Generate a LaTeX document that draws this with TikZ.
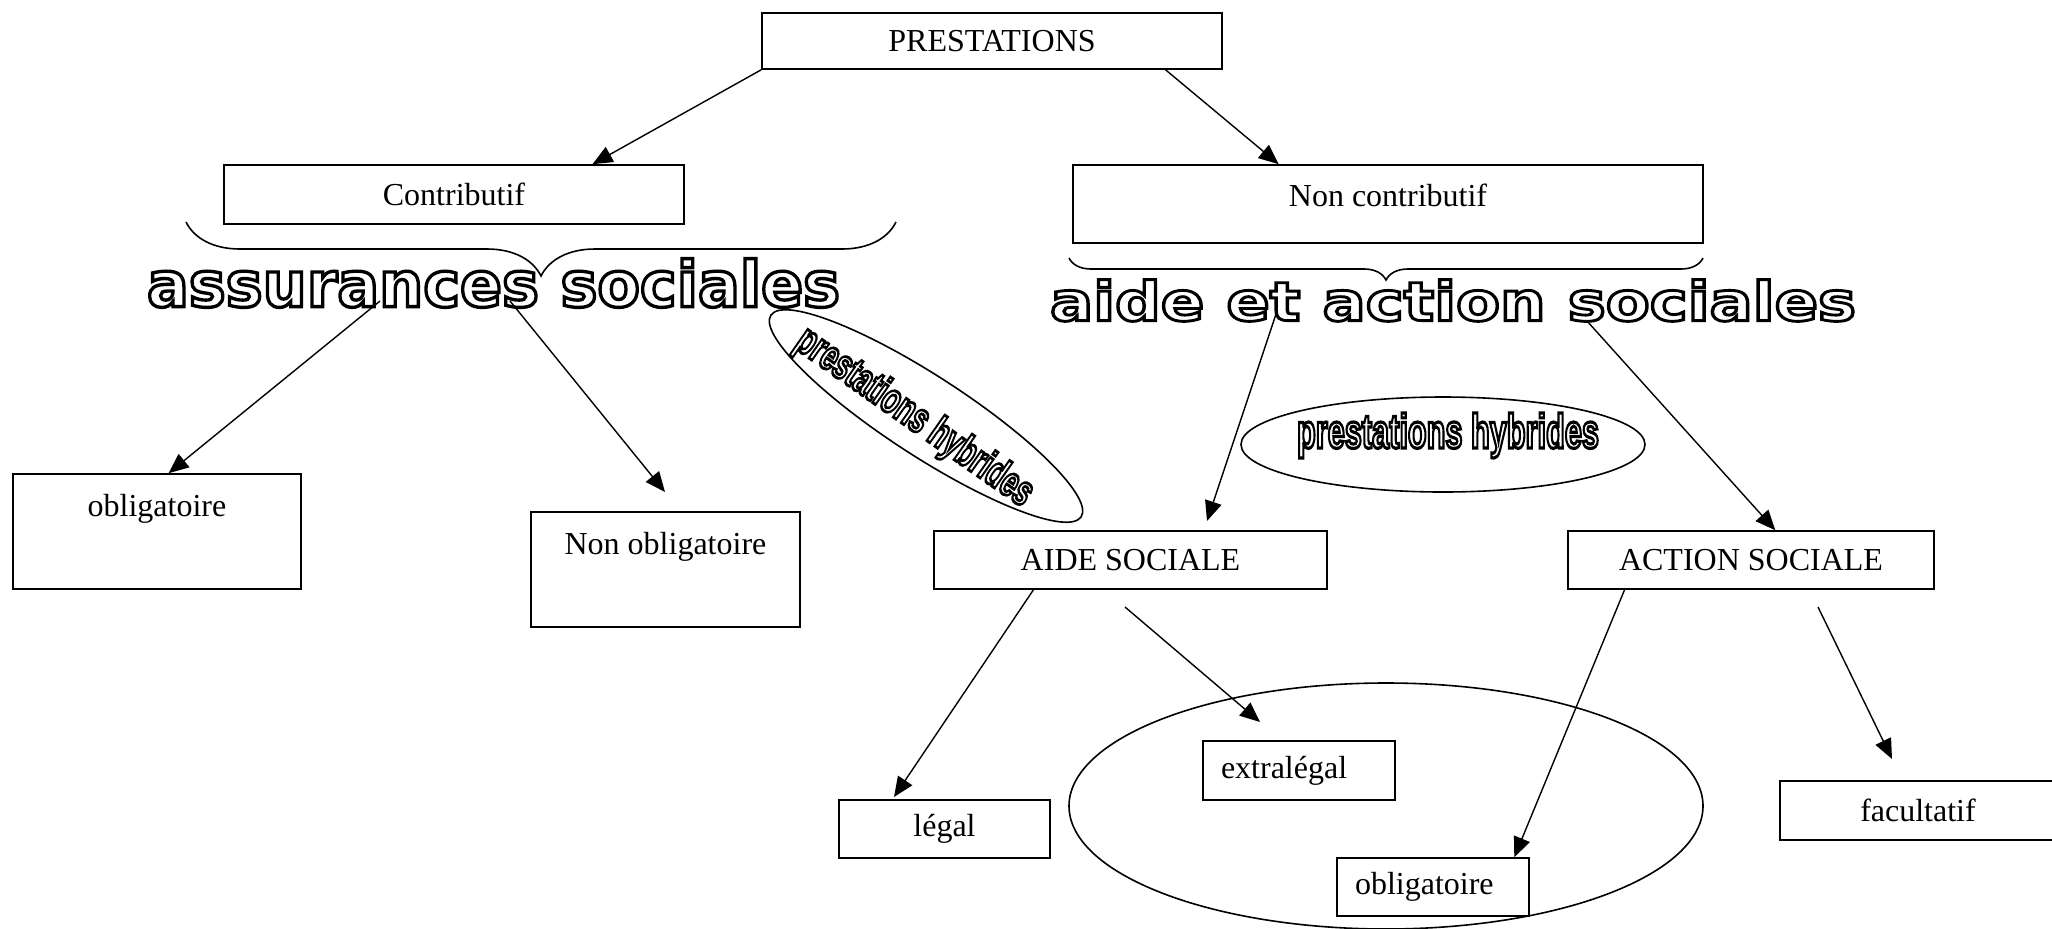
\documentclass[tikz,border=0pt]{standalone}
\usepackage{fontspec}
\setmainfont{Liberation Serif}
\newfontfamily\wideartfont{DejaVu Sans}
\newfontfamily\narrowartfont{Liberation Sans}
\usepackage{graphicx}
\usepackage{tikz}
\usetikzlibrary{arrows.meta,calc}
\usetikzlibrary{shapes.geometric}
\usetikzlibrary{decorations.pathreplacing}

% hollow word art
\newcommand{\hollowtext}[1]{\special{pdf:literal direct 1 Tr 1.6 w}#1\special{pdf:literal direct 0 Tr}}
\newcommand{\wordwide}[3]{\resizebox{#1}{#2}{\wideartfont\bfseries\fontsize{30}{32}\selectfont\hollowtext{#3}}}
\newcommand{\wordnarrow}[3]{\resizebox*{#1}{#2}{\narrowartfont\bfseries\fontsize{24}{26}\selectfont\hollowtext{#3}}}

\tikzstyle{presta}=[
  x=0.5pt, y=-0.5pt, line width=0.7pt, font=\fontsize{16}{19}\selectfont
]
\tikzstyle{prestabox}=[
  draw, fill=white, rectangle, inner sep=0pt, line width=0.8pt
]
\tikzstyle{prestatop}=[
  prestabox, text height=21pt, text depth=36.5pt
]
\tikzstyle{prestaleft}=[
  prestabox, align=left, inner xsep=9pt
]
\tikzstyle{prestaring}=[
  draw, ellipse, inner sep=0pt, line width=0.8pt
]
\tikzstyle{prestaedge}=[
  line width=0.7pt, -{Triangle[length=10pt,width=8.5pt]}
]
\tikzstyle{prestabrace}=[
  line width=0.8pt, decorate
]

\begin{document}
\begin{tikzpicture}[presta]
\useasboundingbox (0,0) rectangle (2052,928);

\node (ring) [prestaring, minimum width=317pt, minimum height=123pt] at (1386,806) {};

\node (prest) [prestabox, minimum width=230pt, minimum height=28pt] at (992,41) {PRESTATIONS};
\node (contrib) [prestabox, minimum width=230pt, minimum height=29.5pt] at (454,194.5) {Contributif};
\node (noncontrib) [prestabox, minimum width=315pt, text height=20.5pt, text depth=18.5pt] at (1388,204) {Non contributif};

\draw [prestabrace, decoration={brace, amplitude=27pt}] (896,222) -- (186,222);
\draw [prestabrace, decoration={brace, amplitude=11pt}] (1703,258) -- (1069,258);

\node (assur) [inner sep=0pt] at (493.5,283) {\wordwide{346.5pt}{24pt}{assurances sociales}};
\node (aideact) [inner sep=0pt] at (1453,300.5) {\wordwide{403pt}{20.5pt}{aide et action sociales}};

\node (hybA) [prestaring, rotate=-33, minimum width=185pt, minimum height=40pt] at (926,416) {};
\node (hybAtext) [inner sep=0pt, rotate=-35] at (914,418) {\wordnarrow{140pt}{20pt}{prestations hybrides}};
\node (hybB) [prestaring, minimum width=202pt, minimum height=47.5pt] at (1443,444.5) {};
\node (hybBtext) [inner sep=0pt] at (1448,435.5) {\wordnarrow{151pt}{22.5pt}{prestations hybrides}};

\node (obligL) [prestatop, minimum width=144pt] at (157,531.5) {obligatoire};
\node (nonoblig) [prestatop, minimum width=134.5pt] at (665.5,569.5) {Non obligatoire};
\node (aide) [prestabox, minimum width=196.5pt, minimum height=29pt] at (1130.5,560) {AIDE SOCIALE};
\node (action) [prestabox, minimum width=183pt, minimum height=29pt] at (1751,560) {ACTION SOCIALE};
\node (legal) [prestabox, minimum width=105.5pt, minimum height=29pt] at (944.5,829) {légal};
\node (extra) [prestaleft, text width=78pt, minimum height=29.5pt] at (1299,770.5) {extralégal};
\node (obligB) [prestaleft, text width=78pt, minimum height=29pt] at (1433,887) {obligatoire};
\node (facult) [prestabox, minimum width=138pt, minimum height=29.5pt] at (1918,810.5) {facultatif};

\coordinate (assurL) at (380,301);
\coordinate (assurR) at (510,301);
\coordinate (nonobligtop) at (665,492);
\coordinate (aideactL) at (1276,314);
\coordinate (aideactR) at (1587,321);
\coordinate (aidetop) at (1207,521);
\coordinate (legaltop) at (894,797);
\coordinate (aidebelow) at (1125,607);
\coordinate (ringtop) at (1260,722);
\coordinate (actionbelow) at (1818,607);
\coordinate (facultabove) at (1892,759);

\draw [prestaedge] (prest.south west) -- ($(contrib.north west)!0.8!(contrib.north east)$);
\draw [prestaedge] ($(prest.south west)!0.876!(prest.south east)$) -- ($(noncontrib.north west)!0.327!(noncontrib.north east)$);
\draw [prestaedge] (assurL) -- ($(obligL.north west)!0.54!(obligL.north east)$);
\draw [prestaedge] (assurR) -- (nonobligtop);
\draw [prestaedge] (aideactL) -- (aidetop);
\draw [prestaedge] (aideactR) -- ($(action.north west)!0.566!(action.north east)$);
\draw [prestaedge] ($(aide.south west)!0.254!(aide.south east)$) -- (legaltop);
\draw [prestaedge] (aidebelow) -- (ringtop);
\draw [prestaedge] ($(action.south west)!0.156!(action.south east)$) -- ($(obligB.north west)!0.92!(obligB.north east)$);
\draw [prestaedge] (actionbelow) -- (facultabove);
\end{tikzpicture}
\end{document}
